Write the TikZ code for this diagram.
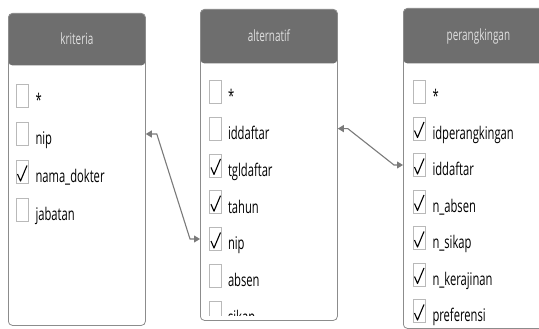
\documentclass[tikz,border=0pt]{standalone}
\usepackage{fontspec}
\setmainfont[FakeStretch=0.64]{Open Sans}
\usetikzlibrary{arrows.meta,calc,positioning}
\definecolor{hdrgray}{HTML}{6E6E6E}
\definecolor{linegray}{HTML}{8C8C8C}
\definecolor{linkgray}{HTML}{7A7A7A}
\tikzset{
  tbl/.style={draw=linegray, line width=0.8pt, rounded corners=4pt, anchor=north west, inner sep=0pt,
    path picture={\fill[hdrgray] (path picture bounding box.north west) rectangle ([yshift=-#1]path picture bounding box.north east);}},
  title/.style={text=gray!25, font=\fontsize{15.5}{17}\selectfont, inner sep=0pt},
  blank/.style={draw=gray!55, line width=0.6pt, minimum width=12pt, minimum height=23pt, inner sep=0pt},
  tick/.style={blank, path picture={\draw[black, line width=1.1pt, line join=round]
    ([xshift=1.5pt,yshift=-2pt]path picture bounding box.west) --
    ([xshift=-1.5pt,yshift=2.5pt]path picture bounding box.south) --
    ([xshift=-1pt,yshift=-5pt]path picture bounding box.north east);}},
  field/.style={anchor=base west, inner sep=0pt, font=\fontsize{17.5}{19}\selectfont},
  link/.style={draw=linkgray, line width=1.1pt, {Triangle[length=6pt,width=7pt]}-{Triangle[length=6pt,width=7pt]}}
}
\begin{document}
\begin{tikzpicture}[x=1pt, y=-1pt]
\useasboundingbox (0,0) rectangle (539,329);
\clip (0,0) rectangle (539,329);

% kriteria
\node[tbl=52pt, minimum width=137pt, minimum height=312pt] (kriteria) at (8,13) {};
\node[title] (kriteria-title) at (kriteria.north |- 0,39) {kriteria};
\foreach [count=\i] \f/\s in {*/blank, nip/blank, nama\_dokter/tick, jabatan/blank}{
  \node[\s] (k\i-box) at (22, 58+38*\i) {};
  \node[field] (k\i) at ([xshift=7pt,yshift=1pt]k\i-box.south east) {\f};
}

% alternatif
\node[tbl=54pt, minimum width=137pt, minimum height=311pt] (alternatif) at (200,9) {};
\node[title] (alternatif-title) at (alternatif.north |- 0,36) {alternatif};
\begin{scope}
  \clip (alternatif.north west) rectangle ([yshift=5pt]alternatif.south east);
  \foreach [count=\i] \f/\s in {*/blank, iddaftar/blank, tgldaftar/tick, tahun/tick, nip/tick, absen/blank, sikap/blank}{
    \node[\s] (a\i-box) at (215.5, 55+36.8*\i) {};
    \node[field] (a\i) at ([xshift=6pt,yshift=1pt]a\i-box.south east) {\f};
  }
\end{scope}

% perangkingan
\node[tbl=55pt, minimum width=150pt, minimum height=320pt] (perangkingan) at (403,8) {};
\node[title] (perangkingan-title) at (perangkingan.north |- 0,36) {perangkingan};
\foreach [count=\i] \f/\s in {*/blank, idperangkingan/tick, iddaftar/tick, n\_absen/tick, n\_sikap/tick, n\_kerajinan/tick, preferensi/tick}{
  \node[\s] (p\i-box) at (419, 55.5+36.5*\i) {};
  \node[field] (p\i) at ([xshift=7pt,yshift=1pt]p\i-box.south east) {\f};
}

% relasi
\draw[link] (kriteria.east |- k2-box) -- ++(11,0) -- ($(alternatif.west |- a5-box)+(-10,0)$) -- (alternatif.west |- a5-box);
\draw[link] (alternatif.east |- a2-box) -- ++(10,0) -- ($(perangkingan.west |- p3-box)+(-9,0)$) -- (perangkingan.west |- p3-box);
\end{tikzpicture}
\end{document}
